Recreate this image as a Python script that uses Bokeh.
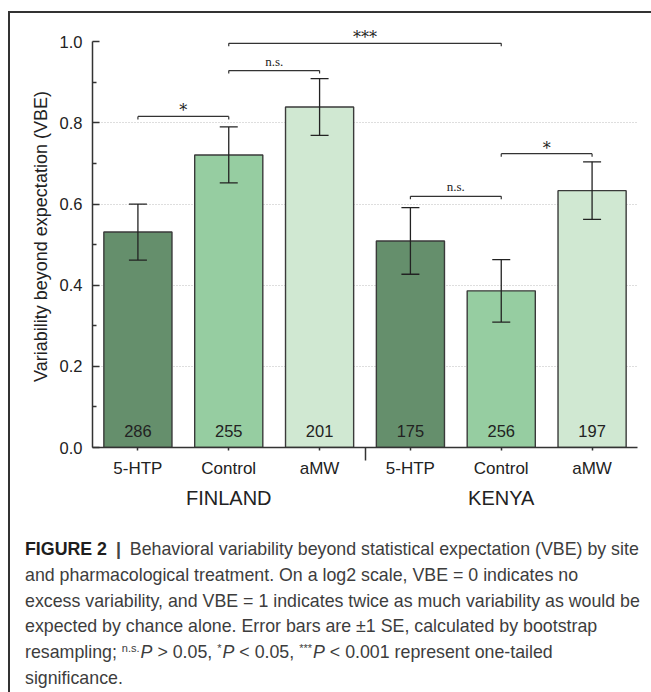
from bokeh.plotting import figure
from bokeh.layouts import column
from bokeh.models import (ColumnDataSource, FixedTicker, PrintfTickFormatter, LinearAxis,
                          LabelSet, Range1d, Div)
from bokeh.embed import file_html
from bokeh.resources import INLINE
from bokeh.core.properties import value

# ---------------- data ----------------
sites = ["FINLAND", "FINLAND", "FINLAND", "KENYA", "KENYA", "KENYA"]
treatments = ["5-HTP", "Control", "aMW", "5-HTP", "Control", "aMW"]
vbe = [0.531, 0.721, 0.839, 0.509, 0.386, 0.633]
se = [0.069, 0.069, 0.070, 0.082, 0.077, 0.071]
n_obs = [286, 255, 201, 175, 256, 197]

sig_left = [0, 1, 1, 3, 4]
sig_right = [1, 2, 4, 4, 5]
sig_y = [0.816, 0.929, 0.996, 0.619, 0.724]
sig_text = ["*", "n.s.", "***", "n.s.", "*"]

y_ticks = [0.0, 0.2, 0.4, 0.6, 0.8, 1.0]
y_minor_ticks = [0.1, 0.3, 0.5, 0.7, 0.9]
grid_ticks = [0.2, 0.4, 0.6, 0.8]

treatment_colors = {"5-HTP": "#658f6c", "Control": "#96cda1", "aMW": "#d0e8d2"}

y_label = "Variability beyond expectation (VBE)"
caption_html = (
    "<b style='color:#1e1e1e'>FIGURE 2</b>&ensp;<b style='color:#444'>|</b>&ensp;"
    "Behavioral variability beyond statistical expectation (VBE) by site<br>"
    "and pharmacological treatment. On a log2 scale, VBE = 0 indicates no<br>"
    "excess variability, and VBE = 1 indicates twice as much variability as would be<br>"
    "expected by chance alone. Error bars are \u00b11 SE, calculated by bootstrap<br>"
    "resampling; <span class='sup'>n.s.</span><i>P</i> &gt; 0.05, "
    "<span class='sup'>*</span><i>P</i> &lt; 0.05, "
    "<span class='sup'>***</span><i>P</i> &lt; 0.001 represent one-tailed<br>"
    "significance."
)

# ---------------- layout / style ----------------
PAGE_W, PAGE_H = 651, 692
BOX_X, BOX_Y, BORDER = 8, 11, 2          # outer frame of the figure panel
OX, OY = BOX_X + BORDER, BOX_Y + BORDER  # where the plot canvas starts
W = PAGE_W - OX
PLOT_H = 512
DIV_H = PAGE_H - OY - PLOT_H
LEFT, RIGHT, TOP = 92 - OX, 14, 25 - OY
FRAME_W = W - LEFT - RIGHT
FRAME_H = 422
BOTTOM = PLOT_H - TOP - FRAME_H
X0, X1 = -0.5, len(treatments) - 0.5
Y0, Y1 = 0.0, 1.04

px_y = (Y1 - Y0) / FRAME_H
px_x = (X1 - X0) / FRAME_W

SANS = "Liberation Sans"
SERIF = "Liberation Serif"
STAR_FONT = "DejaVu Serif"
INK = "#222222"
LINE = "#333333"

# ---------------- derived sources ----------------
x_idx = list(range(len(treatments)))
cap_half = 9 * px_x
bar_src = ColumnDataSource(dict(
    x=x_idx, top=vbe,
    color=[treatment_colors[t] for t in treatments],
    lo=[v - e for v, e in zip(vbe, se)],
    hi=[v + e for v, e in zip(vbe, se)],
    cl=[x - cap_half for x in x_idx],
    cr=[x + cap_half for x in x_idx],
    n=[str(v) for v in n_obs],
    ny=[17 * px_y] * len(x_idx),
))

tick_len = 3 * px_y
is_star = [t.startswith("*") for t in sig_text]
sig_src = ColumnDataSource(dict(
    x0=sig_left, x1=sig_right, y=sig_y,
    yt=[v - tick_len for v in sig_y],
    xm=[(a + b) / 2 for a, b in zip(sig_left, sig_right)],
    text=sig_text,
    off=[0 if s else 5 for s in is_star],
    fs=["16px" if s else "13px" for s in is_star],
    font=[STAR_FONT if s else SERIF for s in is_star],
))

# ---------------- figure ----------------
p = figure(width=W, height=PLOT_H, x_range=Range1d(X0, X1), y_range=Range1d(Y0, Y1),
           output_backend="svg", toolbar_location=None,
           min_border_left=LEFT, min_border_right=RIGHT,
           min_border_top=TOP, min_border_bottom=BOTTOM)
p.outline_line_color = None
p.background_fill_color = "white"
p.border_fill_color = "white"
p.margin = (0, 0, 0, 0)

# grid
p.xgrid.visible = False
p.ygrid.ticker = FixedTicker(ticks=grid_ticks)
p.ygrid.grid_line_color = "#bdbdbd"
p.ygrid.grid_line_dash = "1 2"
p.ygrid.grid_line_width = 1

# y axis
ya = p.yaxis[0]
ya.bounds = (Y0, 1.0)
ya.ticker = FixedTicker(ticks=y_ticks, minor_ticks=y_minor_ticks)
ya.formatter = PrintfTickFormatter(format="%.1f")
ya.major_tick_in = 7
ya.major_tick_out = 0
ya.minor_tick_in = 4
ya.minor_tick_out = 0
ya.axis_line_color = LINE
ya.axis_line_width = 1.5
ya.major_tick_line_color = LINE
ya.major_tick_line_width = 1.5
ya.minor_tick_line_color = LINE
ya.minor_tick_line_width = 1.5
ya.major_label_text_font = SANS
ya.major_label_text_font_size = "16.5px"
ya.major_label_text_color = INK
ya.major_label_standoff = 10
ya.axis_label = y_label
ya.axis_label_text_font = SANS
ya.axis_label_text_font_size = "18px"
ya.axis_label_text_font_style = "normal"
ya.axis_label_text_color = INK
ya.axis_label_standoff = 6

# x axis (treatments)
sep = [(a + b) / 2 for a, b, s1, s2 in zip(x_idx[:-1], x_idx[1:], sites[:-1], sites[1:]) if s1 != s2]
xa = p.xaxis[0]
xa.ticker = FixedTicker(ticks=x_idx, minor_ticks=sep)
xa.major_label_overrides = {i: t for i, t in zip(x_idx, treatments)}
xa.major_tick_in = 0
xa.major_tick_out = 3
xa.minor_tick_in = 0
xa.minor_tick_out = 13
xa.axis_line_color = LINE
xa.axis_line_width = 1.5
xa.major_tick_line_color = LINE
xa.major_tick_line_width = 1.5
xa.minor_tick_line_color = LINE
xa.minor_tick_line_width = 1.5
xa.major_label_text_font = SANS
xa.major_label_text_font_size = "17px"
xa.major_label_text_color = INK
xa.major_label_standoff = -2

# second x axis (sites)
groups = list(dict.fromkeys(sites))
g_pos = []
for g in groups:
    members = [i for i, s in zip(x_idx, sites) if s == g]
    g_pos.append(sum(members) / len(members))
ga = LinearAxis(ticker=FixedTicker(ticks=g_pos, minor_ticks=[]),
                major_label_overrides={v: g for v, g in zip(g_pos, groups)},
                axis_line_color=None, major_tick_line_color=None,
                minor_tick_line_color=None, major_tick_in=0, major_tick_out=0,
                minor_tick_in=0, minor_tick_out=0,
                major_label_text_font=SANS, major_label_text_font_size="20px",
                major_label_text_color=INK, major_label_standoff=6)
p.add_layout(ga, "below")

# bars
p.vbar(x="x", top="top", width=0.75, source=bar_src, fill_color="color",
       line_color="#3a3a3a", line_width=1.4)

# error bars
p.segment(x0="x", y0="lo", x1="x", y1="hi", source=bar_src, line_color=INK, line_width=1.3)
p.segment(x0="cl", y0="hi", x1="cr", y1="hi", source=bar_src, line_color=INK, line_width=1.3)
p.segment(x0="cl", y0="lo", x1="cr", y1="lo", source=bar_src, line_color=INK, line_width=1.3)

# counts
p.text(x="x", y="ny", text="n", source=bar_src, text_align="center",
       text_baseline="middle", text_font=value(SANS), text_font_size="16.5px",
       text_color=INK)

# significance brackets
p.segment(x0="x0", y0="y", x1="x1", y1="y", source=sig_src, line_color=LINE, line_width=1.2)
p.segment(x0="x0", y0="y", x1="x0", y1="yt", source=sig_src, line_color=LINE, line_width=1.2)
p.segment(x0="x1", y0="y", x1="x1", y1="yt", source=sig_src, line_color=LINE, line_width=1.2)
p.add_layout(LabelSet(x="xm", y="y", text="text", source=sig_src, y_offset="off",
                      text_align="center", text_baseline="alphabetic",
                      text_font="font", text_font_size="fs",
                      text_color=INK))

# caption
cap = Div(
    text=("<div style=\"font-family:'Liberation Sans'; font-size:17.8px; line-height:25.8px;"
          " color:#3d3d3d; white-space:nowrap; padding:12px 0 0 15px;\">"
          "<style>.sup{font-size:11px; vertical-align:6px; line-height:0; margin-right:1px;}</style>"
          + caption_html + "</div>"),
    width=W, height=DIV_H, margin=(0, 0, 0, 0),
)

layout = column(p, cap, margin=(BOX_Y, 0, 0, BOX_X),
                styles={"border-left": f"{BORDER}px solid #333",
                        "border-top": f"{BORDER}px solid #333",
                        "background": "white"})

open("out.html", "w").write(file_html(layout, INLINE))
